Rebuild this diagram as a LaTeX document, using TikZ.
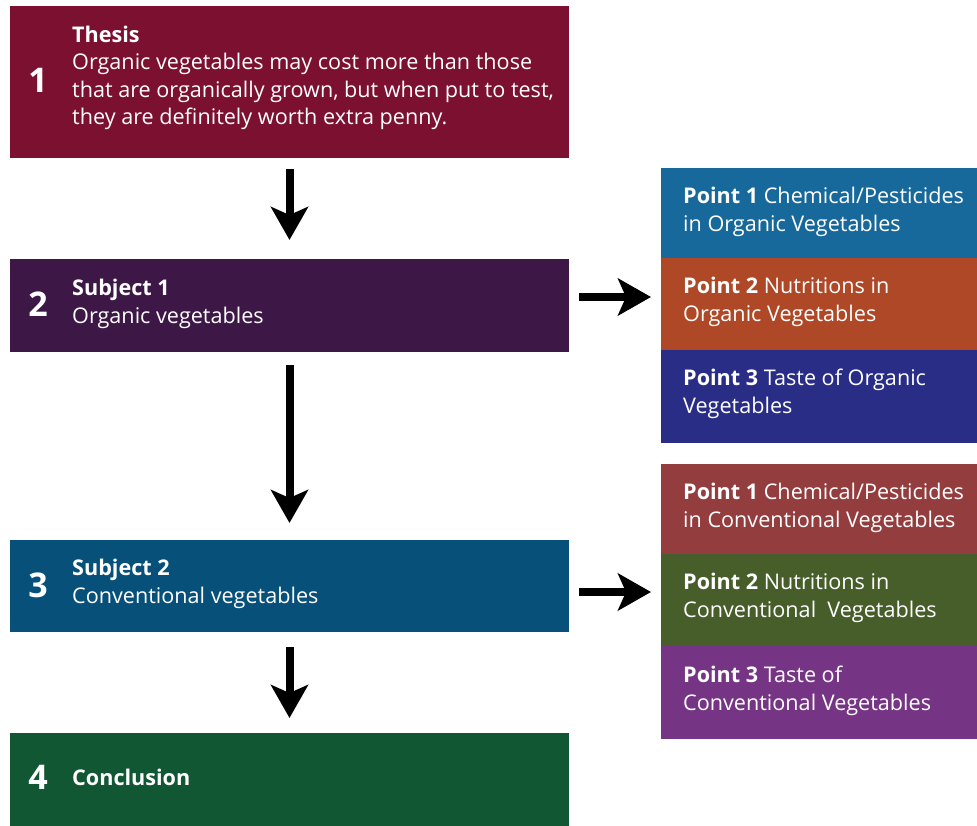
\documentclass[tikz,border=0pt]{standalone}
\usepackage{fontspec}
\setmainfont{Open Sans}
\usetikzlibrary{arrows.meta}
\definecolor{cThesis}{HTML}{7B1030}
\definecolor{cSubA}{HTML}{3D1846}
\definecolor{cSubB}{HTML}{07507A}
\definecolor{cConc}{HTML}{125734}
\definecolor{cPa}{HTML}{16699A}
\definecolor{cPb}{HTML}{AE4826}
\definecolor{cPc}{HTML}{2A2D86}
\definecolor{cQa}{HTML}{933D3E}
\definecolor{cQb}{HTML}{475E2A}
\definecolor{cQc}{HTML}{763584}
\begin{document}
\begin{tikzpicture}[x=1pt,y=-1pt,
  box/.style={draw=none, inner sep=0pt, outer sep=0pt, anchor=north west},
  mainbox/.style={box, minimum width=559pt},
  pointbox/.style={box, minimum width=316pt},
  txt/.style={text=white, inner sep=0pt, anchor=west, align=left, font=\fontsize{21.6}{27.5}\selectfont},
  num/.style={text=white, inner sep=0pt, anchor=center, font=\fontsize{34}{34}\selectfont\bfseries},
  arr/.style={line width=8pt, -{Stealth[length=33pt, width=37pt, inset=8pt]}}
]
\useasboundingbox (0,0) rectangle (977,825);

% main boxes
\node[mainbox, fill=cThesis, minimum height=152pt] (b1) at (10,6) {};
\node[mainbox, fill=cSubA, minimum height=93pt] (b2) at (10,259) {};
\node[mainbox, fill=cSubB, minimum height=92pt] (b3) at (10,540) {};
\node[mainbox, fill=cConc, minimum height=95pt] (b4) at (10,733) {};

\node[num] (n1) at (38,80) {1};
\node[num] (n2) at (38,304) {2};
\node[num] (n3) at (38,585) {3};
\node[num] (n4) at (38,777) {4};

\node[txt] (t1) at (72,78) {\textbf{Thesis}\\Organic vegetables may cost more than those\\that are organically grown, but when put to test,\\they are definitely worth extra penny.};
\node[txt] (t2) at (72,304) {\textbf{Subject 1}\\Organic vegetables};
\node[txt] (t3) at (72,584) {\textbf{Subject 2}\\Conventional vegetables};
\node[txt] (t4) at (72,777) {\textbf{Conclusion}};

% point boxes
\node[pointbox, fill=cPa, minimum height=90pt] (p1) at (661,168) {};
\node[pointbox, fill=cPb, minimum height=92pt] (p2) at (661,258) {};
\node[pointbox, fill=cPc, minimum height=93pt] (p3) at (661,350) {};
\node[pointbox, fill=cQa, minimum height=90pt] (q1) at (661,464) {};
\node[pointbox, fill=cQb, minimum height=92pt] (q2) at (661,554) {};
\node[pointbox, fill=cQc, minimum height=93pt] (q3) at (661,646) {};

\node[txt] (tp1) at (683,212) {\textbf{Point 1} Chemical/Pesticides\\in Organic Vegetables};
\node[txt] (tp2) at (683,302) {\textbf{Point 2} Nutritions in\\Organic Vegetables};
\node[txt] (tp3) at (683,394) {\textbf{Point 3} Taste of Organic\\Vegetables};
\node[txt] (tq1) at (683,508) {\textbf{Point 1} Chemical/Pesticides\\in Conventional Vegetables};
\node[txt] (tq2) at (683,598) {\textbf{Point 2} Nutritions in\\Conventional\ \ Vegetables};
\node[txt] (tq3) at (683,691) {\textbf{Point 3} Taste of\\Conventional Vegetables};

% arrows
\draw[arr, shorten <=11pt, shorten >=19pt] (b1.south) -- (b2.north);
\draw[arr, shorten <=13pt, shorten >=17pt] (b2.south) -- (b3.north);
\draw[arr, shorten <=15pt, shorten >=15pt] (b3.south) -- (b4.north);
\draw[arr, shorten <=10pt, shorten >=10pt] ([yshift=8.5pt]b2.east) -- ([yshift=8.5pt]b2.east -| p2.west);
\draw[arr, shorten <=10pt, shorten >=10pt] ([yshift=-6pt]b3.east) -- ([yshift=-6pt]b3.east -| q2.west);
\end{tikzpicture}
\end{document}
